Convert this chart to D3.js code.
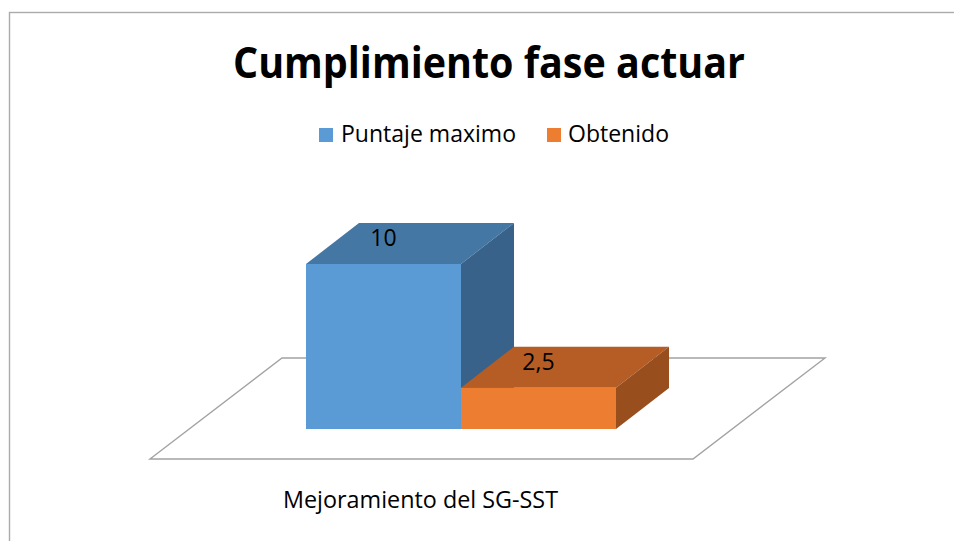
<!DOCTYPE html>
<html><head><meta charset="utf-8">
<script src="https://cdn.jsdelivr.net/npm/d3@7/dist/d3.min.js"></script>
<style>html,body{margin:0;padding:0;background:#fff;overflow:hidden}svg{display:block}</style>
</head><body><svg id="c" width="954" height="541"></svg>
<script>
const titleText = "Cumplimiento fase actuar";
const categories = ["Mejoramiento del SG-SST"];
const seriesNames = ["Puntaje maximo", "Obtenido"];
const seriesValues = [10, 2.5];
const valueLabels = ["10", "2,5"];
const frontColors = ["#5b9bd5", "#ed7d31"];
const topColors = ["#4577a5", "#b55d24"];
const sideColors = ["#39628a", "#984e1d"];
const font = "'Open Sans','Noto Sans',sans-serif";

const svg = d3.select("#c");
svg.append("rect").attr("x",9.5).attr("y",12.5).attr("width",960).attr("height",540).attr("fill","#fff").attr("stroke","#ababab").attr("stroke-width",1.4);

const band = d3.scaleBand().domain(seriesNames).range([306,616]);
const y = d3.scaleLinear().domain([0,10]).range([429,264]);
const dx = 53, dy = -41;
const line = d3.line();

svg.append("path").attr("d",line([[150,459],[693,459],[825,358],[282,358]])+"Z").attr("fill","#fff").attr("stroke","#a3a3a3").attr("stroke-width",1.4);

seriesNames.forEach((s,i)=>{
  const x0 = band(s), x1 = x0+band.bandwidth(), y0 = y(0), yt = y(seriesValues[i]);
  const g = svg.append("g");
  g.append("path").attr("d",line([[x0,yt],[x1,yt],[x1+dx,yt+dy],[x0+dx,yt+dy]])+"Z").attr("fill",topColors[i]);
  g.append("path").attr("d",line([[x1,yt],[x1+dx,yt+dy],[x1+dx,y0+dy],[x1,y0]])+"Z").attr("fill",sideColors[i]);
  g.append("rect").attr("x",x0).attr("y",yt).attr("width",x1-x0).attr("height",y0-yt).attr("fill",frontColors[i]);
  svg.append("text").attr("x",x0+(x1-x0)/2).attr("y",yt-26).attr("dy","0.35em").attr("text-anchor","middle")
    .attr("font-family",font).attr("font-size",23).attr("fill","#000").text(valueLabels[i]);
});

svg.append("text").attr("x",489).attr("y",78).attr("text-anchor","middle").attr("font-family",font).attr("font-weight",700).attr("font-size",43)
  .attr("textLength",512).attr("lengthAdjust","spacingAndGlyphs").attr("fill","#000").text(titleText);

const legendWidths = [175,101];
[[319,341],[547,568]].forEach((p,i)=>{
  svg.append("rect").attr("x",p[0]).attr("y",128).attr("width",14).attr("height",14).attr("fill",frontColors[i]);
  svg.append("text").attr("x",p[1]).attr("y",142).attr("font-family",font).attr("font-size",23)
    .attr("textLength",legendWidths[i]).attr("lengthAdjust","spacingAndGlyphs").attr("fill","#000").text(seriesNames[i]);
});

svg.append("text").attr("x",283).attr("y",508).attr("font-family",font).attr("font-size",23)
  .attr("textLength",275).attr("lengthAdjust","spacingAndGlyphs").attr("fill","#000").text(categories[0]);
</script></body></html>
